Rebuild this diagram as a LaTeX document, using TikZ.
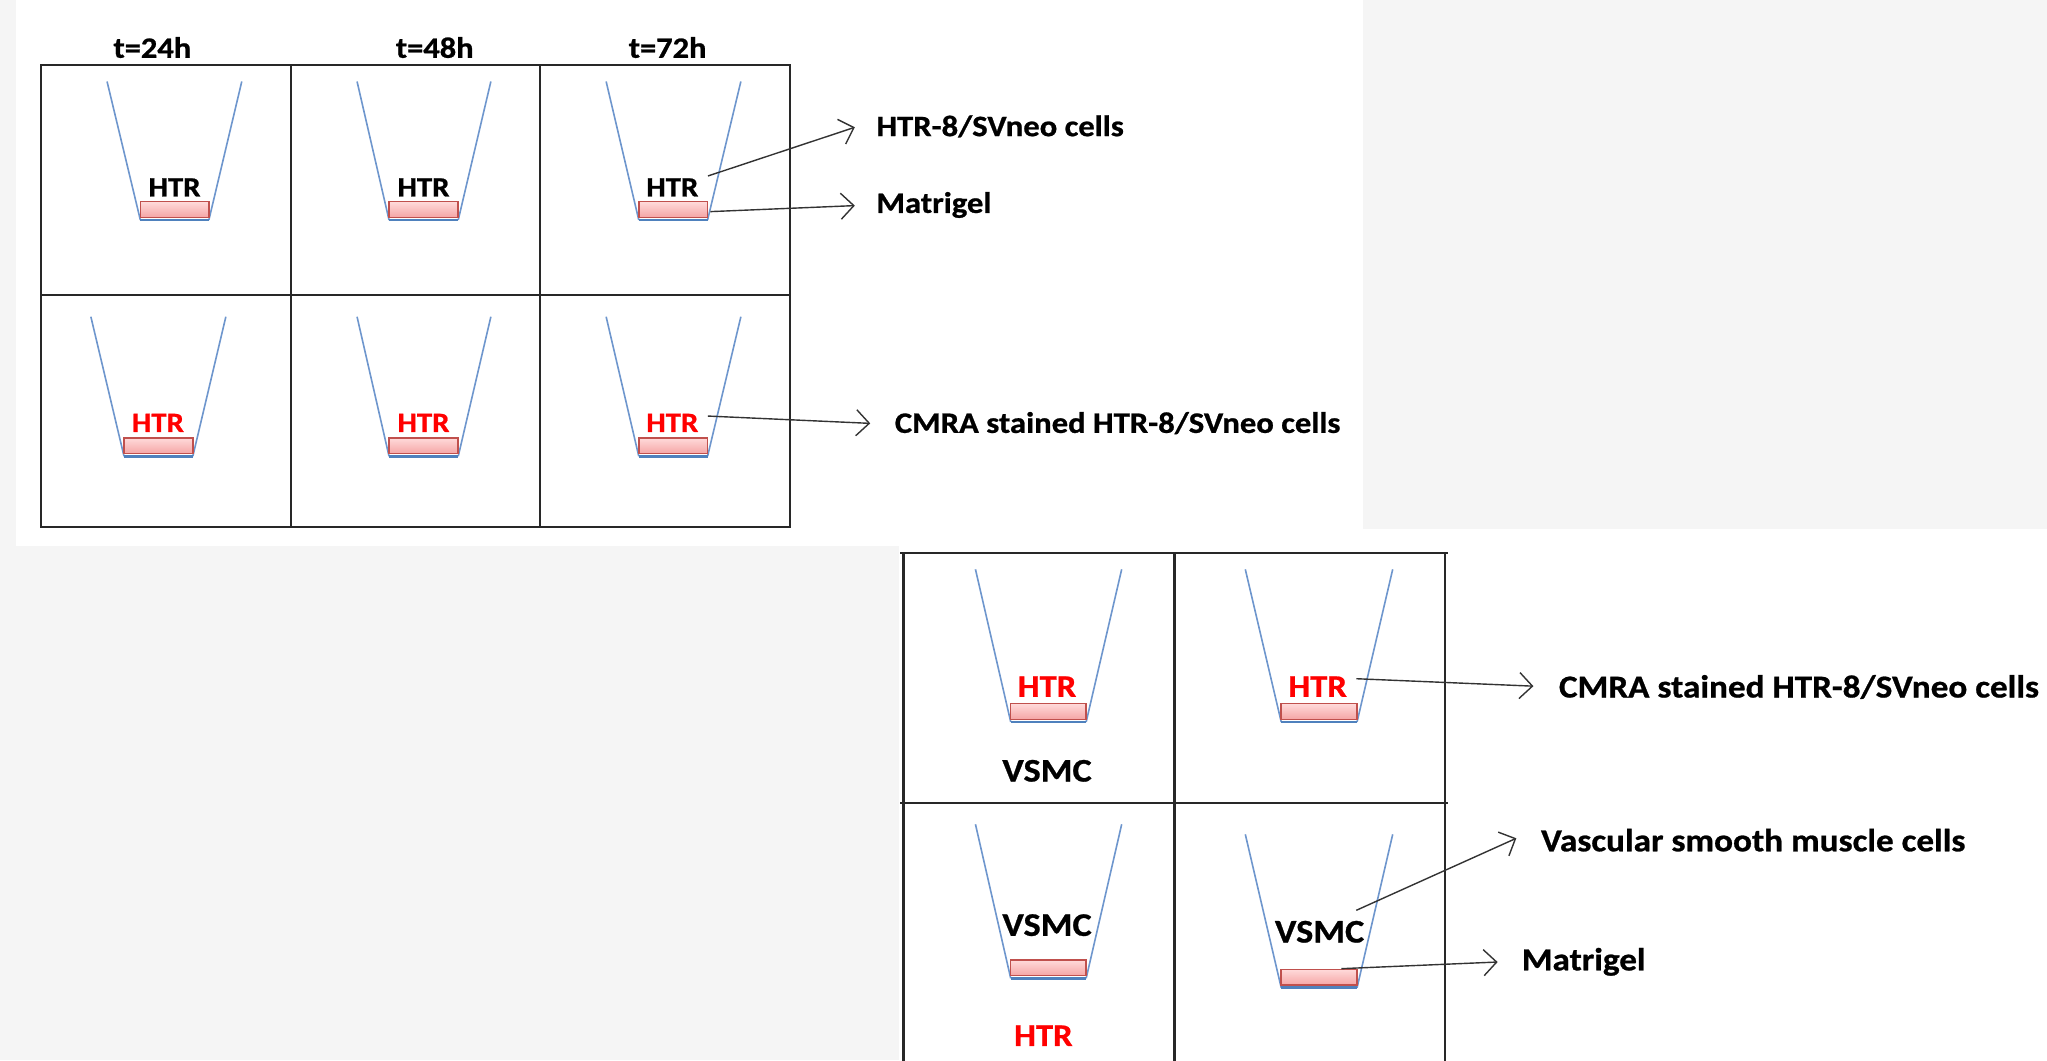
\documentclass[tikz,border=0pt]{standalone}
\usepackage{fontspec}
\newfontfamily\cf{Carlito}[FakeStretch=1.1, BoldFeatures={FakeBold=0.8}]
\usetikzlibrary{arrows.meta,calc}
\definecolor{bgGray}{RGB}{245,245,245}
\definecolor{beakBlue}{RGB}{110,150,205}
\definecolor{edgeBlue}{RGB}{79,129,189}
\definecolor{gelEdge}{RGB}{192,80,77}
\definecolor{gelTop}{RGB}{255,218,218}
\definecolor{gelBot}{RGB}{245,165,165}
\definecolor{gridCol}{RGB}{40,40,40}
\definecolor{htrRed}{RGB}{255,0,0}
\newcommand{\drawbeaker}[6]{%
  \draw[beakerline] (#1,#5) -- (#3,#6);
  \draw[beakerline] (#2,#5) -- (#4,#6);
  \draw[gelbase] (#3,#6) -- (#4,#6);
  \draw[gelbox] (#3,{#6-2}) rectangle (#4,{#6-14});
}
\tikzset{
  gridline/.style={draw=gridCol, line width=2.2pt, line cap=rect},
  beakerline/.style={draw=beakBlue, line width=1.6pt},
  gelbase/.style={draw=edgeBlue, line width=2.5pt},
  gelbox/.style={draw=gelEdge, line width=1.5pt, top color=gelTop, bottom color=gelBot},
  arr/.style={draw=black!80, line width=1.4pt, -{Straight Barb[length=13pt,width=26pt,line width=1.4pt]}},
  toplab/.style={font=\cf\bfseries\fontsize{29.7}{32}\selectfont, inner sep=0pt, anchor=west, text height=19pt, text depth=0pt},
  botlab/.style={font=\cf\bfseries\fontsize{32}{34}\selectfont, inner sep=0pt, anchor=west, text height=20.6pt, text depth=0pt},
  head/.style={font=\cf\bfseries\fontsize{29.5}{32}\selectfont, inner sep=0pt, text height=19pt, text depth=0pt},
  htrtop/.style={font=\cf\bfseries\fontsize{28}{30}\selectfont, inner sep=0pt, text height=18pt, text depth=0pt},
  htrbot/.style={font=\cf\bfseries\fontsize{31.5}{33}\selectfont, inner sep=0pt, text height=20.3pt, text depth=0pt},
  vsmc/.style={font=\cf\bfseries\fontsize{33}{35}\selectfont, inner sep=0pt, text height=21.3pt, text depth=0pt},
}
\begin{document}
\begin{tikzpicture}[x=1.3055pt, y=-1.3055pt]
\useasboundingbox (0,0) rectangle (1568,812);
% backgrounds
\fill[white] (0,0) rectangle (1568,812);
\fill[bgGray] (0,0) rectangle (12,418);
\fill[bgGray] (0,418) rectangle (689,812);
\fill[bgGray] (1044,0) rectangle (1568,405);

% ---------- top panel grid ----------
\foreach \gx in {31.3,222.8,413.5,605} \draw[gridline] (\gx,49.5) -- (\gx,403.5);
\foreach \gy in {49.5,226,403.5} \draw[gridline] (31.3,\gy) -- (605,\gy);

% headers
\node[head] (h24) at (116.7,37) {t=24h};
\node[head] (h48) at (333,37) {t=48h};
\node[head] (h72) at (511.4,37) {t=72h};

% top row beakers
\drawbeaker{82}{185.2}{107.5}{160}{62.4}{168.5}
\drawbeaker{273.5}{376}{298}{351}{62.4}{168.5}
\drawbeaker{464.3}{567.5}{489.3}{542}{62.4}{168.5}
\node[htrtop] (t1) at (133.7,143.6) {HTR};
\node[htrtop] (t2) at (324.4,143.6) {HTR};
\node[htrtop] (t3) at (515,143.6) {HTR};

% bottom row beakers
\drawbeaker{69.6}{173}{95}{147.7}{242.6}{349.5}
\drawbeaker{273.5}{376}{298}{351}{242.6}{349.5}
\drawbeaker{464.3}{567.5}{489.3}{542}{242.6}{349.5}
\node[htrtop, text=htrRed] (r1) at (121,324) {HTR};
\node[htrtop, text=htrRed] (r2) at (324.4,324) {HTR};
\node[htrtop, text=htrRed] (r3) at (515,324) {HTR};

% top labels and arrows
\node[toplab] (l1) at (671.2,97) {HTR-8/SVneo cells};
\node[toplab] (l2) at (671.2,155.8) {Matrigel};
\node[toplab] (l3) at (685.3,324.3) {CMRA stained HTR-8/SVneo cells};
\coordinate (s1) at (542.3,134.8);
\coordinate (s2) at (544.2,162.1);
\coordinate (s3) at (542.3,318.7);
\draw[arr] (s1) -- ($(l1.west)+(-16.4,0.5)$);
\draw[arr] (s2) -- ($(l2.west)+(-16.4,1.7)$);
\draw[arr] (s3) -- ($(l3.west)+(-18.7,0)$);

% ---------- bottom panel grid ----------
\foreach \gx in {692,899.6,1107} \draw[gridline] (\gx,423.8) -- (\gx,812);
\foreach \gy in {423.8,614.8} \draw[gridline] (690,\gy) -- (1108,\gy);

\drawbeaker{747.2}{859.2}{774.2}{832}{436.1}{553}
\drawbeaker{953.9}{1066.8}{981.4}{1039.5}{436.1}{553}
\drawbeaker{747.2}{859.2}{774.2}{832}{631.4}{749.4}
\drawbeaker{953.9}{1066.8}{981.4}{1039.5}{639.1}{756.6}

\node[htrbot, text=htrRed] (b1) at (802,526) {HTR};
\node[htrbot, text=htrRed] (b2) at (1009.3,526) {HTR};
\node[vsmc] (v1) at (802,590.5) {VSMC};
\node[vsmc] (v2) at (802,708.7) {VSMC};
\node[htrbot, text=htrRed] (b3) at (799.2,793.4) {HTR};
\node[vsmc] (v3) at (1010.8,713.8) {VSMC};

\node[botlab] (l4) at (1194,526.4) {CMRA stained HTR-8/SVneo cells};
\node[botlab] (l5) at (1180.3,644.2) {Vascular smooth muscle cells};
\node[botlab] (l6) at (1165.5,735.4) {Matrigel};
\coordinate (s4) at (1038.9,519.9);
\coordinate (s5) at (1038.9,697.3);
\coordinate (s6) at (1027.5,742);
\draw[arr] (s4) -- ($(l4.west)+(-19.4,-0.8)$);
\draw[arr] (s5) -- ($(l5.west)+(-18.8,-2.1)$);
\draw[arr] (s6) -- ($(l6.west)+(-18.3,1.5)$);
\end{tikzpicture}
\end{document}
